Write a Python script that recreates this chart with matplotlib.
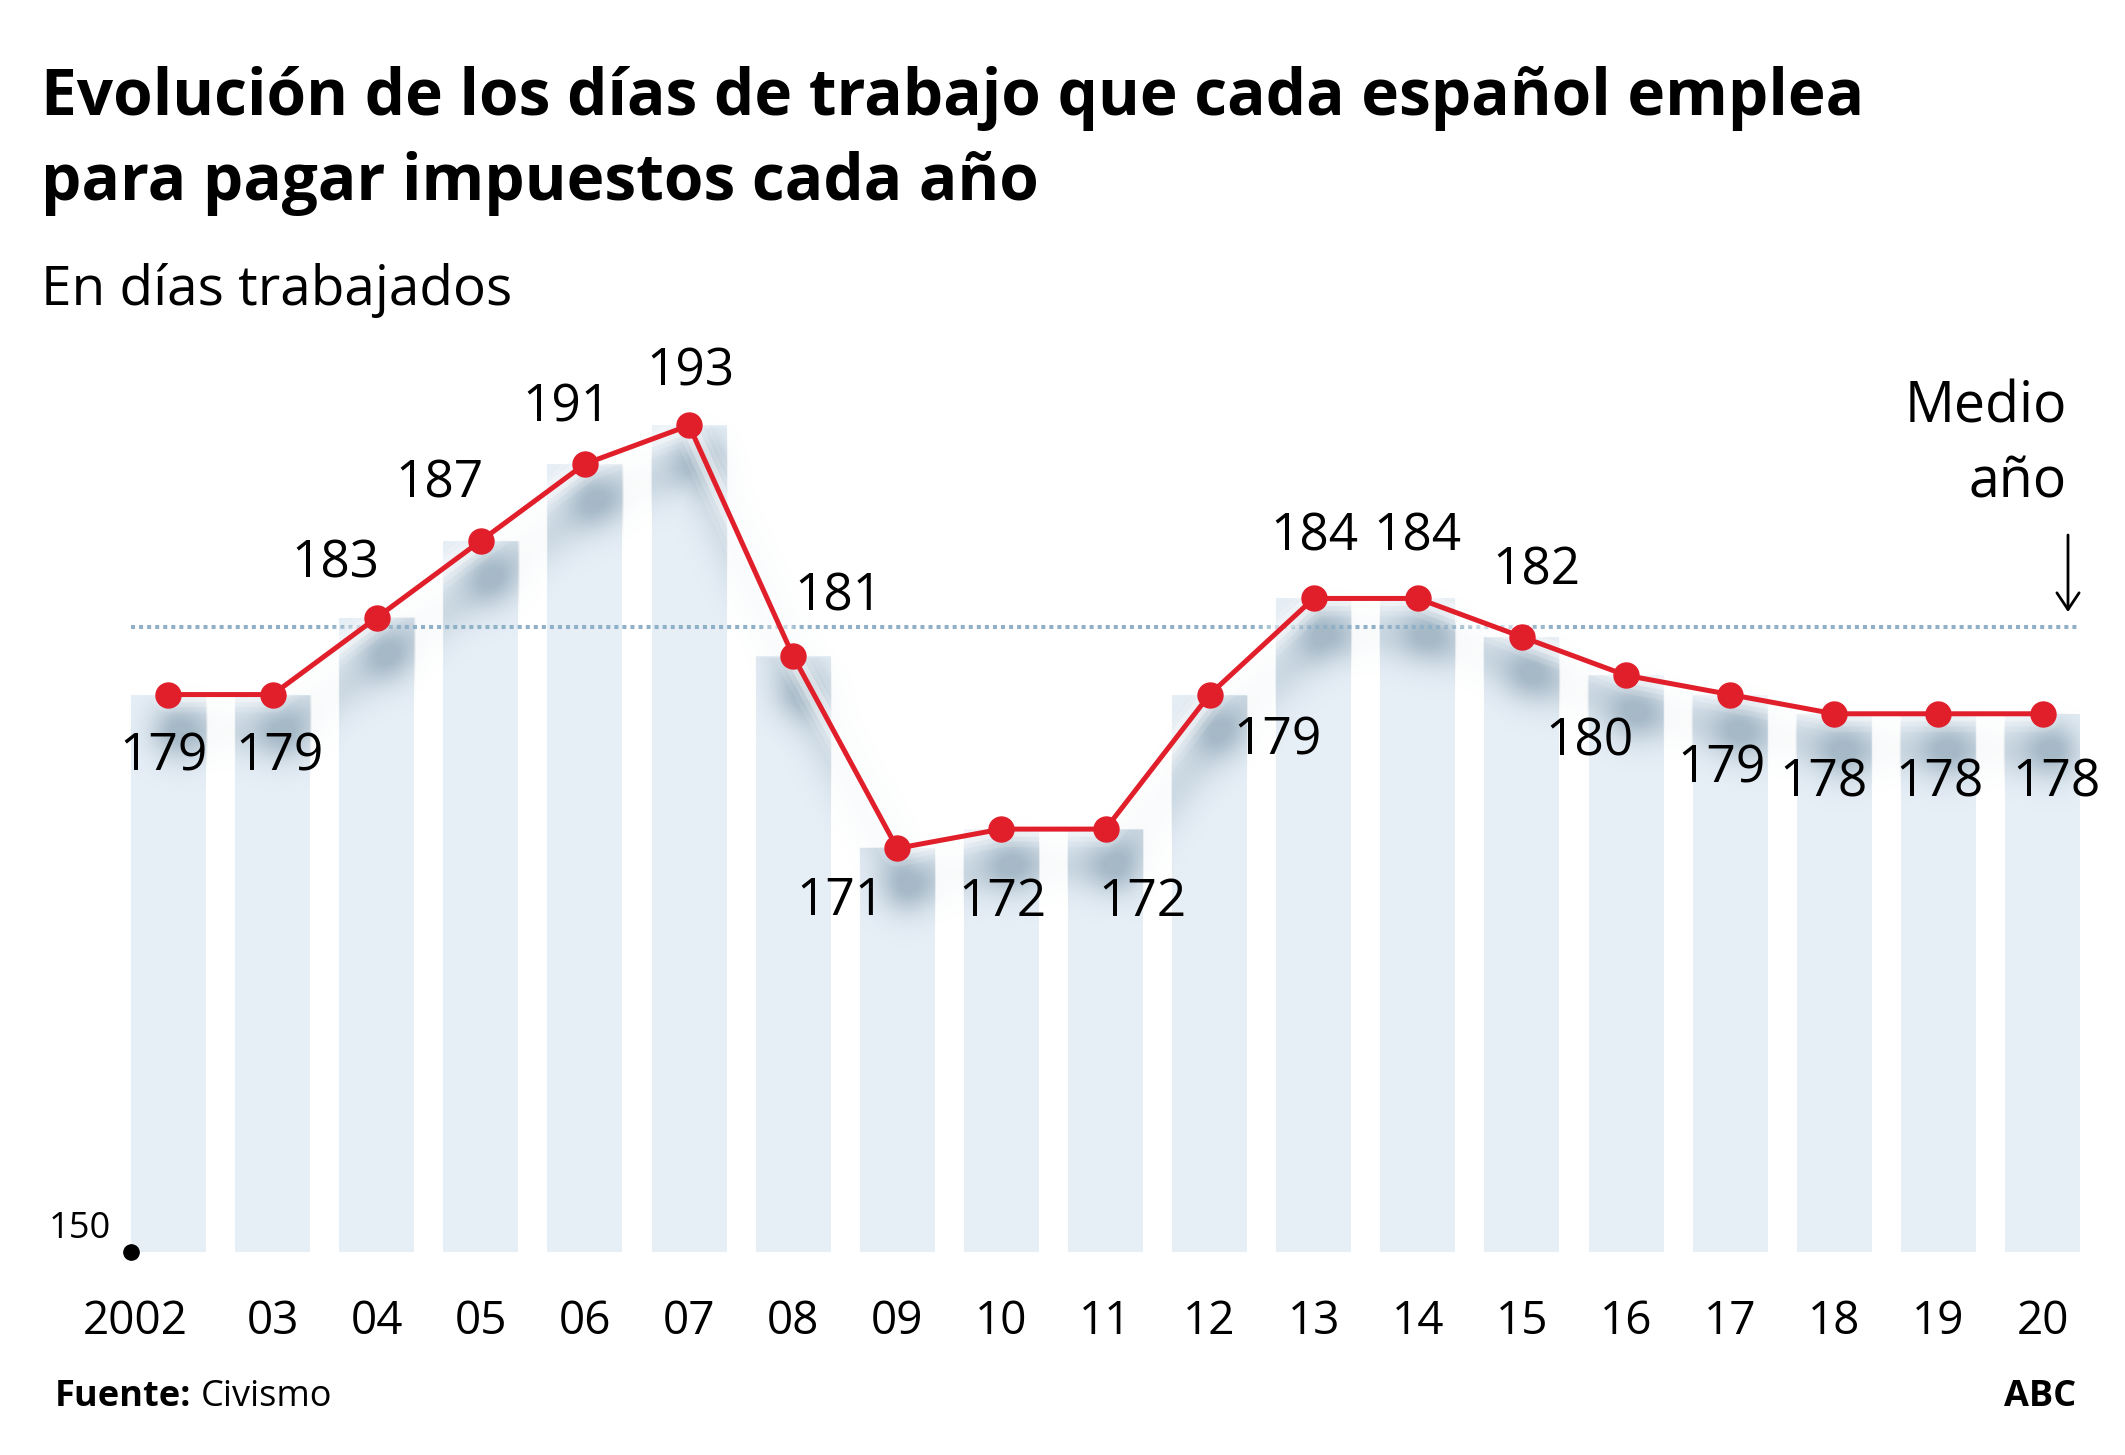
import numpy as np
import matplotlib.pyplot as plt
import matplotlib.transforms as mtransforms

# data
years = list(range(2002, 2021))
tick_labels = ['2002', '03', '04', '05', '06', '07', '08', '09', '10', '11',
               '12', '13', '14', '15', '16', '17', '18', '19', '20']
days = [179, 179, 183, 187, 191, 193, 181, 171, 172, 172,
        179, 184, 184, 182, 180, 179, 178, 178, 178]
half_year = 182.5
base = 150

# label offsets (px): dx, dy down to label centre
offsets = [(-5, 58), (7, 58), (-41, -58), (-41, -61), (-18, -60), (1, -58),
           (45, -64), (-57, 49), (1, 69), (37, 69), (68, 42), (1, -66),
           (0, -66), (14, -70), (-37, 62), (-9, 70), (-11, 65), (1, 65), (14, 65)]

plt.rcParams['font.family'] = ['Open Sans', 'DejaVu Sans']
W, H = 2125, 1455
RED = '#e01f2b'
BAR = '#e6eef6'

fig = plt.figure(figsize=(W / 100, H / 100), dpi=100)
fig.patch.set_facecolor('white')


def fx(px):
    return px / W


def fy(py):
    return 1 - py / H


bw = 0.72
ax = fig.add_axes([fx(131), fy(1252), (2080 - 131) / W, (1252 - 387) / H])
ax.set_xlim(years[0] - bw / 2, years[-1] + bw / 2)
ax.set_ylim(base, 195)
for s in ax.spines.values():
    s.set_visible(False)
ax.set_yticks([])
ax.set_xticks(years, tick_labels, fontsize=33)
ax.tick_params(axis='x', length=0, pad=34)
first = ax.get_xticklabels()[0]
first.set_transform(first.get_transform() +
                    mtransforms.ScaledTranslation(-33 / 100, 0, fig.dpi_scale_trans))

ax.bar(years, days, width=bw, color=BAR, zorder=1)

# blurred drop shadow of line and markers, stronger over the bars
pts = ax.transData.transform(np.column_stack([years, days])) + [10, -36]
bb = ax.bbox
nx, ny = int(bb.width) // 2, int(bb.height) // 2
X, Y = np.meshgrid(np.linspace(bb.x0, bb.x1, nx), np.linspace(bb.y0, bb.y1, ny))
d2 = np.full(X.shape, np.inf)
for (px, py), (qx, qy) in zip(pts[:-1], pts[1:]):
    vx, vy = qx - px, qy - py
    t = np.clip(((X - px) * vx + (Y - py) * vy) / (vx * vx + vy * vy), 0, 1)
    d2 = np.minimum(d2, (X - px - t * vx) ** 2 + (Y - py - t * vy) ** 2)
shade = 0.4 * np.exp(-d2 / (2 * 18 ** 2))
for px, py in pts:
    shade += 0.7 * np.exp(-((X - px) ** 2 + (Y - py) ** 2) / (2 * 20 ** 2))
shade = np.clip(shade, 0, 1)
mask = np.full(X.shape, 0.15)
for yr, v in zip(years, days):
    (l, top), (r, _) = ax.transData.transform([(yr - bw / 2, v), (yr + bw / 2, v)])
    mask[(X >= l) & (X <= r) & (Y <= top)] = 1.0
img = np.zeros((ny, nx, 4))
img[..., :3] = (0.50, 0.60, 0.67)
img[..., 3] = 0.62 * shade * mask
ax.imshow(img, extent=(*ax.get_xlim(), *ax.get_ylim()), origin='lower',
          aspect='auto', interpolation='bilinear', zorder=2)

ax.axhline(half_year, color='#8fb0c6', lw=2.9, linestyle=(0, (1, 1)), zorder=2.5)

# white halo + red line
for lw, a in [(26, 0.12), (18, 0.2), (11, 0.35)]:
    ax.plot(years, days, color='white', lw=lw, alpha=a, zorder=3,
            solid_capstyle='round', solid_joinstyle='round')
ax.plot(years, days, color=RED, lw=3.6, marker='o', ms=18, zorder=4)

for yr, v, (dx, dy) in zip(years, days, offsets):
    ax.annotate(str(v), (yr, v), xytext=(dx, -(dy + 18)), textcoords='offset pixels',
                ha='center', va='baseline', fontsize=37, zorder=5)

# base marker
ax.plot([years[0] - bw / 2], [base], 'o', color='black', ms=11, clip_on=False, zorder=5)
ax.annotate(str(base), (years[0] - bw / 2, base), xytext=(-20, 14),
            textcoords='offset pixels', ha='right', va='baseline', fontsize=26)

# titles
fig.text(fx(41), fy(115), 'Evolución de los días de trabajo que cada español emplea',
         fontsize=46, fontweight='bold', va='baseline')
fig.text(fx(41), fy(200), 'para pagar impuestos cada año',
         fontsize=46, fontweight='bold', va='baseline')
fig.text(fx(41), fy(305), 'En días trabajados', fontsize=39.5, va='baseline')

fig.text(fx(2067), fy(422), 'Medio', fontsize=40, ha='right', va='baseline')
fig.text(fx(2067), fy(498), 'año', fontsize=40, ha='right', va='baseline')
ax.annotate('', xy=(2068, H - 612), xytext=(2068, H - 535), xycoords='figure pixels',
            arrowprops=dict(arrowstyle='->,head_length=0.6,head_width=0.4',
                            lw=2, color='black', mutation_scale=20,
                            shrinkA=0, shrinkB=0))

# footer
src = fig.text(fx(55), fy(1406), 'Fuente:', fontsize=26, fontweight='bold', va='baseline')
fig.canvas.draw()
ext = src.get_window_extent()
fig.text((ext.x1 + 9) / W, fy(1406), 'Civismo', fontsize=26, va='baseline')
fig.text(fx(2076), fy(1406), 'ABC', fontsize=26, fontweight='bold', ha='right', va='baseline')

fig.savefig('out.png', dpi=100)
